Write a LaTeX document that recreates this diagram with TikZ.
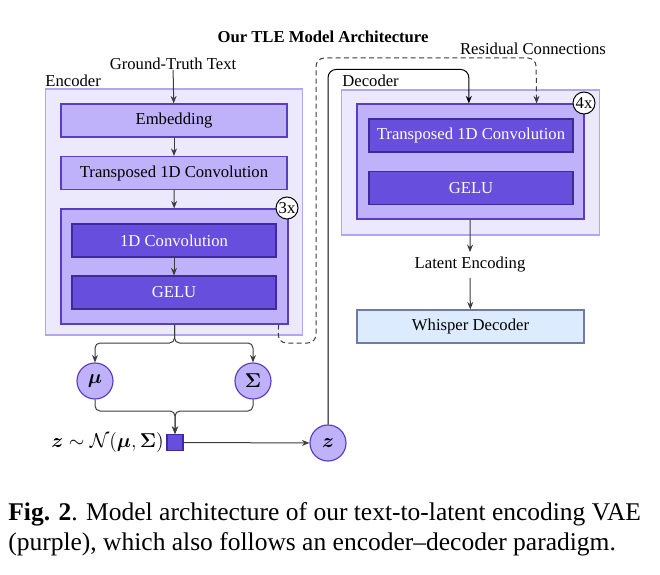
\documentclass[tikz,border=0pt]{standalone}
\usepackage{amsmath, amssymb}
\usepackage{fontspec}
\setmainfont{Liberation Serif}
\usepackage{tikz}
\usetikzlibrary{arrows.meta, positioning}

\definecolor{outerfill}{HTML}{EDE9FD}
\definecolor{outerline}{HTML}{B3A5EF}
\definecolor{lightfill}{HTML}{C0B1FB}
\definecolor{lightline}{HTML}{5A3EC2}
\definecolor{darkfill}{HTML}{674EDC}
\definecolor{darkline}{HTML}{3E2A9C}
\definecolor{whisperfill}{HTML}{DCEBFD}
\definecolor{whisperline}{HTML}{6E7BA6}
\definecolor{arrowgray}{HTML}{3C3C3C}

\begin{document}
\begin{tikzpicture}[x=0.6pt, y=-0.6pt,
    outerbox/.style={draw=outerline, fill=outerfill, line width=0.8pt, inner sep=0, minimum width=154.5pt},
    blockbox/.style={draw=lightline, fill=lightfill, line width=0.7pt, inner sep=0, minimum width=136.2pt, minimum height=69pt},
    layerbox/.style={draw=lightline, fill=lightfill, line width=0.7pt, minimum width=135.6pt, minimum height=19.8pt, font=\fontsize{10}{12}\selectfont},
    darkbox/.style={draw=darkline, fill=darkfill, line width=0.7pt, minimum width=122.4pt, minimum height=19.8pt, text=white, font=\fontsize{10}{12}\selectfont},
    repeatmark/.style={circle, draw=black, fill=white, line width=0.6pt, minimum size=13.2pt, inner sep=0, font=\fontsize{10}{12}\selectfont},
    varcircle/.style={circle, draw=lightline, fill=lightfill, line width=0.7pt, minimum size=21.6pt, inner sep=0, font=\fontsize{13}{15}\selectfont},
    plain/.style={inner sep=0, font=\fontsize{10}{12}\selectfont},
    arr/.style={-{Stealth[length=4.5pt, width=3.6pt]}, draw=arrowgray, line width=0.6pt},
]
    \useasboundingbox (0,0) rectangle (660,575);

    % Title
    \node[plain, font=\fontsize{10}{12}\selectfont\bfseries] (title) at (323,37) {Our TLE Model Architecture};

    % Encoder
    \node[outerbox, minimum height=147.6pt] (enc) at (174,212) {};
    \node[plain, anchor=west] (enclabel) at (45,81) {Encoder};
    \node[plain] (gt) at (173,64) {Ground-Truth Text};
    \node[layerbox] (emb) at (174,120.5) {Embedding};
    \node[layerbox] (tconv) at (174,173) {Transposed 1D Convolution};
    \node[blockbox] (encblock) at (174.5,266.5) {};
    \node[darkbox] (conv) at (174,240.5) {1D Convolution};
    \node[darkbox] (egelu) at (174,292.5) {GELU};
    \node[repeatmark] (threex) at (287,208) {3x};

    \draw[arr] (gt) -- (emb);
    \draw[arr] (emb) -- (tconv);
    \draw[arr] (tconv) -- (encblock);
    \draw[arr] (conv) -- (egelu);

    % Mean and covariance
    \node[varcircle] (mu) at (95,381) {$\boldsymbol{\mu}$};
    \node[varcircle] (sigma) at (253,381) {$\boldsymbol{\Sigma}$};
    \coordinate (split) at (174.5,343);
    \coordinate (merge) at (175,411);
    \draw[arr, rounded corners=3pt] (encblock.south) -- (split) -| (mu);
    \draw[arr, rounded corners=3pt] (encblock.south) -- (split) -| (sigma);
    \draw[arr, rounded corners=3pt] (mu) |- (merge) -- (175,434);
    \draw[arr, rounded corners=3pt] (sigma) |- (merge) -- (175,434);

    % Sampling
    \node[draw=darkline, fill=darkfill, line width=0.7pt, minimum size=9.6pt, inner sep=0] (sample) at (175,442.5) {};
    \node[plain, anchor=east, font=\fontsize{13}{15}\selectfont] (samplelabel) at (164,442) {$\boldsymbol{z} \sim \mathcal{N}(\boldsymbol{\mu}, \boldsymbol{\Sigma})$};
    \node[varcircle] (zlat) at (328,443) {$\boldsymbol{z}$};
    \draw[arr] (sample) -- (zlat);

    % Decoder
    \node[outerbox, minimum height=87pt] (dec) at (470.5,162.5) {};
    \node[plain, anchor=west] (declabel) at (342,81) {Decoder};
    \node[blockbox] (decblock) at (470.5,161.5) {};
    \node[darkbox] (dtconv) at (471,135.5) {Transposed 1D Convolution};
    \node[darkbox] (dgelu) at (471,188) {GELU};
    \node[repeatmark] (fourx) at (584,103) {4x};

    % Latent path into the decoder
    \draw[-{Stealth[length=4.5pt, width=3.6pt]}, black, line width=0.6pt, rounded corners=5pt]
        (zlat.north) |- ([yshift=20.4pt, xshift=-1pt]decblock.north) -- ([xshift=-1pt]decblock.north);

    % Residual connections
    \coordinate (resa) at (278,343);
    \coordinate (resb) at (316,343);
    \coordinate (resc) at (536,58);
    \node[plain] (reslabel) at (533,49) {Residual Connections};
    \draw[arr, dashed, dash pattern=on 3pt off 2pt, rounded corners=5pt]
        ([xshift=-6pt]encblock.south east) -- (resa) -- (resb) |- (resc) -- ([xshift=-28.8pt]decblock.north east);

    % Output
    \node[plain] (latent) at (470,265) {Latent Encoding};
    \node[draw=whisperline, fill=whisperfill, line width=0.7pt, minimum width=136.2pt, minimum height=19.8pt, font=\fontsize{10}{12}\selectfont] (whisper) at (470.5,326.5) {Whisper Decoder};
    \draw[arr] (decblock) -- ([yshift=3pt]latent.north);
    \draw[arr] ([yshift=-3pt]latent.south) -- (whisper);

    % Caption
    \node[plain, anchor=west, font=\fontsize{15.3}{18}\selectfont] (capone) at (8,514) {\textbf{Fig. 2}. Model architecture of our text-to-latent encoding VAE};
    \node[plain, anchor=west, font=\fontsize{15.3}{18}\selectfont] (captwo) at (8,544) {(purple), which also follows an encoder--decoder paradigm.};
\end{tikzpicture}
\end{document}
